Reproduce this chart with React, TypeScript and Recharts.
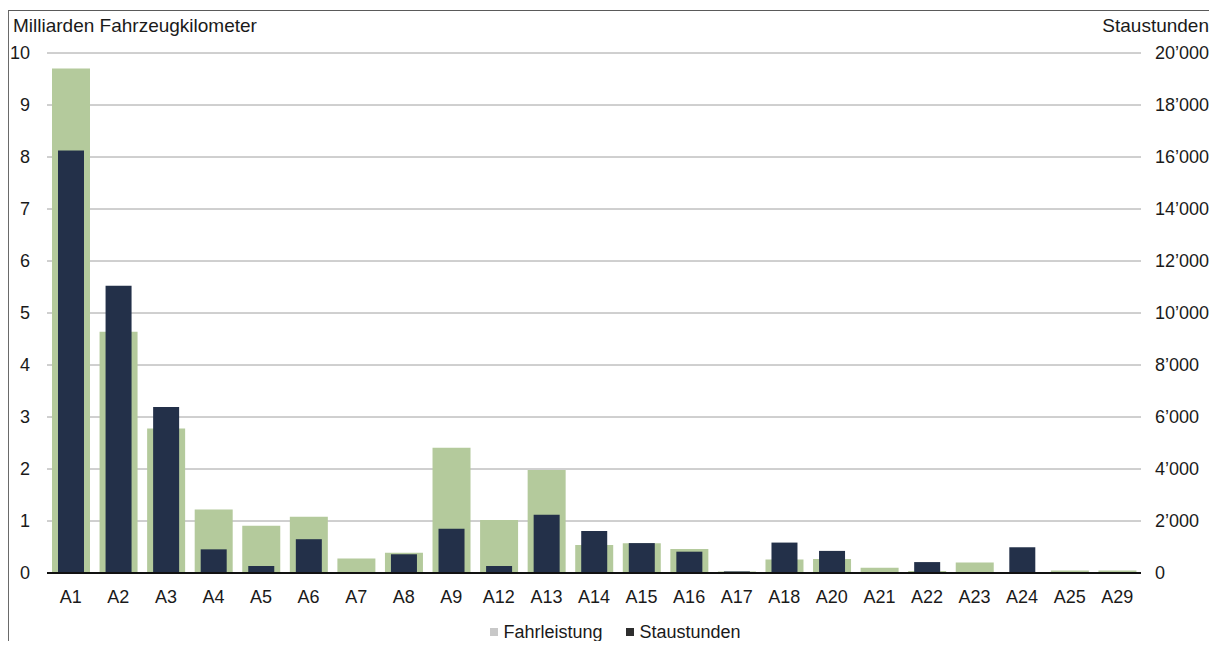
import React from 'react';
import { ComposedChart, Bar, XAxis, YAxis, CartesianGrid, Legend } from 'recharts';

// Nationalstrassen, Fahrleistung (Mrd. Fzkm) und Staustunden
const roads = ['A1', 'A2', 'A3', 'A4', 'A5', 'A6', 'A7', 'A8', 'A9', 'A12', 'A13', 'A14', 'A15', 'A16', 'A17', 'A18', 'A20', 'A21', 'A22', 'A23', 'A24', 'A25', 'A29'];
const fahrleistung = [9.7, 4.64, 2.78, 1.22, 0.91, 1.08, 0.28, 0.39, 2.41, 1.02, 1.98, 0.54, 0.57, 0.46, 0.03, 0.26, 0.27, 0.1, 0.04, 0.2, 0.02, 0.05, 0.05];
const staustunden = [16250, 11050, 6380, 910, 270, 1300, 0, 720, 1700, 270, 2240, 1620, 1150, 820, 60, 1170, 850, 0, 420, 0, 990, 0, 0];
const leftTicks = [0, 1, 2, 3, 4, 5, 6, 7, 8, 9, 10];
const rightTicks = [0, 2000, 4000, 6000, 8000, 10000, 12000, 14000, 16000, 18000, 20000];

const data = roads.map((road, i) => ({
  road,
  fahrleistung: fahrleistung[i],
  staustunden: staustunden[i],
}));

const GREEN = '#b4ca9c';
const NAVY = '#233049';
const FONT = '"Liberation Sans", Arial, sans-serif';
const TEXT = '#1a1a1a';

const fmtThousands = (v: number) =>
  v >= 1000 ? `${Math.floor(v / 1000)}’${String(v % 1000).padStart(3, '0')}` : String(v);

const LegendBox = () => (
  <div
    style={{
      height: 18,
      paddingTop: 20,
      paddingLeft: 14,
      display: 'flex',
      justifyContent: 'center',
      alignItems: 'center',
      fontFamily: FONT,
      fontSize: 18,
      lineHeight: '18px',
      color: TEXT,
    }}
  >
    <span style={{ width: 8, height: 8, background: '#c8c8c8', marginRight: 5 }} />
    <span>Fahrleistung</span>
    <span style={{ width: 8, height: 8, background: '#2e2e2e', marginLeft: 24, marginRight: 5 }} />
    <span>Staustunden</span>
  </div>
);

export default function App() {
  return (
    <div style={{ position: 'relative', width: 1201, height: 633, background: '#fff', fontFamily: FONT }}>
      <div
        style={{
          position: 'absolute',
          left: 0,
          top: 2,
          width: 1203,
          height: 630,
          borderLeft: '1px solid #6a6a6a',
          borderTop: '1px solid #5a5a5a',
          borderRight: '1px solid #dcdcdc',
          pointerEvents: 'none',
        }}
      />
      <div style={{ position: 'absolute', left: 5, top: 9, fontSize: 19, lineHeight: '18px', color: TEXT }}>
        Milliarden Fahrzeugkilometer
      </div>
      <div style={{ position: 'absolute', right: 0, top: 9, fontSize: 19, lineHeight: '18px', color: TEXT }}>
        Staustunden
      </div>
      <ComposedChart width={1201} height={633} data={data} margin={{ top: 45, right: 0, bottom: 0, left: 0 }}>
        <CartesianGrid vertical={false} xAxisId="main" yAxisId="left" stroke="#a0a0a0" />
        <XAxis
          xAxisId="main"
          dataKey="road"
          height={30}
          tickLine={false}
          tickSize={0}
          tickMargin={17}
          axisLine={{ stroke: '#111', strokeWidth: 2 }}
          tick={{ fill: TEXT, fontSize: 18, fontFamily: FONT }}
          interval={0}
        />
        <XAxis xAxisId="navy" dataKey="road" hide />
        <YAxis
          yAxisId="left"
          orientation="left"
          width={39}
          domain={[0, 10]}
          ticks={leftTicks}
          axisLine={false}
          tickLine={false}
          tickSize={0}
          tickMargin={17}
          tick={{ fill: TEXT, fontSize: 18, fontFamily: FONT }}
        />
        <YAxis
          yAxisId="right"
          orientation="right"
          width={68}
          domain={[0, 20000]}
          ticks={rightTicks}
          axisLine={false}
          tickLine={false}
          tickSize={0}
          tickMargin={14}
          tickFormatter={fmtThousands}
          tick={{ fill: TEXT, fontSize: 18, fontFamily: FONT }}
        />
        <Legend verticalAlign="bottom" height={38} content={<LegendBox />} />
        <Bar xAxisId="main" yAxisId="left" dataKey="fahrleistung" name="Fahrleistung" fill={GREEN} barSize={38} isAnimationActive={false} />
        <Bar xAxisId="navy" yAxisId="right" dataKey="staustunden" name="Staustunden" fill={NAVY} barSize={26} isAnimationActive={false} />
      </ComposedChart>
    </div>
  );
}
